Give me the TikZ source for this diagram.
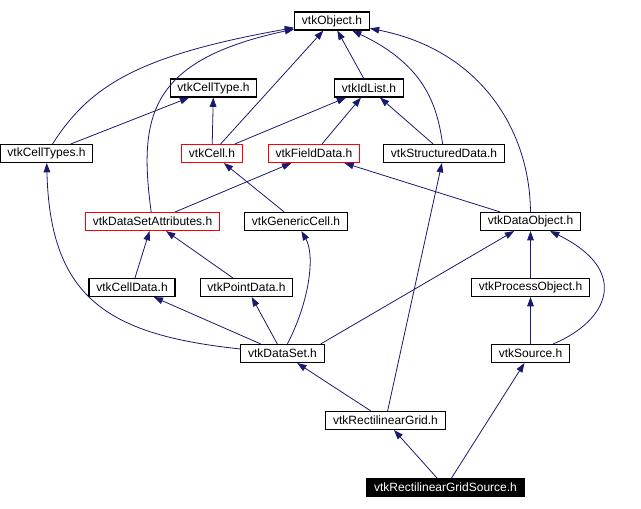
\documentclass[tikz,border=0pt]{standalone}
\usepackage{fontspec}
\setmainfont{Liberation Sans}
\usepackage{tikz}
\usetikzlibrary{arrows.meta,positioning,calc}
\definecolor{DoxNavy}{RGB}{25,25,112}

\begin{document}
\begin{tikzpicture}[x=0.75pt,y=-0.75pt,
        hdr/.style={draw=black,fill=white,line width=0.8pt,
                    font=\fontsize{9}{10}\selectfont,inner xsep=5.5pt,
                    inner ysep=0pt,minimum height=13.5pt},
        redhdr/.style={hdr,draw=red},
        cur/.style={hdr,fill=black,text=white},
        arr/.style={-{Triangle[length=7pt,width=5pt]},DoxNavy,line width=0.6pt}
      ]
        \useasboundingbox (0,0) rectangle (641,509);
        \node[hdr] (obj) at (332,21) {vtkObject.h};
        \node[hdr] (celltype) at (213.5,88) {vtkCellType.h};
        \node[hdr] (idlist) at (369,88) {vtkIdList.h};
        \node[hdr] (celltypes) at (46.5,153.5) {vtkCellTypes.h};
        \node[redhdr] (cell) at (212,153.5) {vtkCell.h};
        \node[redhdr] (fielddata) at (314,153.5) {vtkFieldData.h};
        \node[hdr] (structdata) at (444,153.5) {vtkStructuredData.h};
        \node[redhdr] (dsattr) at (152.5,221.5) {vtkDataSetAttributes.h};
        \node[hdr] (gencell) at (296,221.5) {vtkGenericCell.h};
        \node[hdr] (dataobj) at (530.5,221.5) {vtkDataObject.h};
        \node[hdr] (celldata) at (132,287.5) {vtkCellData.h};
        \node[hdr] (pointdata) at (246.5,287.5) {vtkPointData.h};
        \node[hdr] (procobj) at (530.5,287.5) {vtkProcessObject.h};
        \node[hdr] (dataset) at (282.5,353.5) {vtkDataSet.h};
        \node[hdr] (source) at (530.5,353.5) {vtkSource.h};
        \node[hdr] (rgrid) at (385.5,420.5) {vtkRectilinearGrid.h};
        \node[cur] (rgsrc) at (445.5,487.5) {vtkRectilinearGridSource.h};
        \draw[arr] (celltypes) .. controls (90,85) and (140,55) .. (obj);
        \draw[arr] (dsattr) .. controls (138,115) and (150,60) .. (obj);
        \draw[arr] (cell) -- (obj);
        \draw[arr] (idlist) -- (obj);
        \draw[arr] (structdata) .. controls (437,105) and (425,65) .. (obj);
        \draw[arr] (dataobj) .. controls (530,130) and (480,50) .. (obj);
        \draw[arr] (celltypes) -- (celltype);
        \draw[arr] (cell) -- (celltype);
        \draw[arr] (cell) -- (idlist);
        \draw[arr] (fielddata) -- (idlist);
        \draw[arr] (structdata) -- (idlist);
        \draw[arr] (gencell) -- (cell);
        \draw[arr] (dsattr) -- (fielddata);
        \draw[arr] (dataobj) -- (fielddata);
        \draw[arr] (celldata) -- (dsattr);
        \draw[arr] (pointdata) -- (dsattr);
        \draw[arr] (dataset) .. controls (110,335) and (50,300) .. (celltypes);
        \draw[arr] (dataset) -- (celldata);
        \draw[arr] (dataset) -- (pointdata);
        \draw[arr] (dataset) .. controls (310,300) and (315,255) .. (gencell);
        \draw[arr] ($(dataset.north east)+(-4,0)$) -- (dataobj);
        \draw[arr] (procobj) -- (dataobj);
        \draw[arr] (source) -- (procobj);
        \draw[arr] (source) .. controls (610,320) and (630,270) .. (dataobj);
        \draw[arr] (rgrid) -- (dataset);
        \draw[arr] (rgrid) -- (structdata);
        \draw[arr] (rgsrc) -- (rgrid);
        \draw[arr] (rgsrc) -- (source);
      \end{tikzpicture}
\end{document}
